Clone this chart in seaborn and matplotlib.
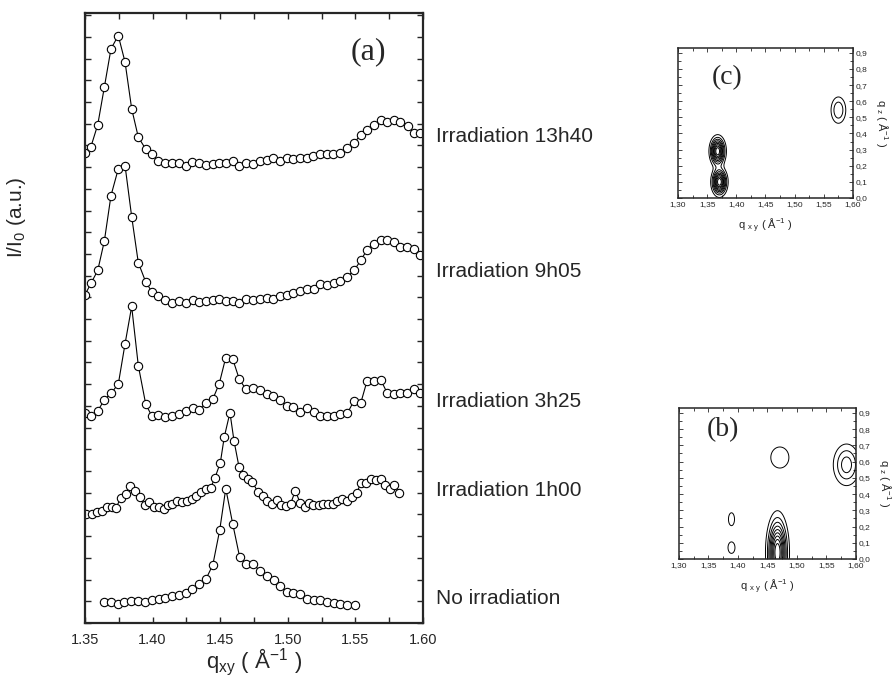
import numpy as np
import pandas as pd
import matplotlib
matplotlib.use('Agg')
import matplotlib.pyplot as plt
import seaborn as sns
from matplotlib.ticker import MultipleLocator, FuncFormatter

# --- GIXD profiles (q_xy in 1/A, intensity in arbitrary offset units) ---
q_none = [1.3641, 1.3692, 1.3746, 1.3791, 1.3840, 1.3894, 1.3946, 1.3996, 1.4045, 1.4094,
          1.4143, 1.4195, 1.4245, 1.4294, 1.4345, 1.4395, 1.4445, 1.4496, 1.4541, 1.4592,
          1.4644, 1.4691, 1.4740, 1.4794, 1.4844, 1.4896, 1.4942, 1.4994, 1.5041, 1.5090,
          1.5142, 1.5192, 1.5240, 1.5290, 1.5340, 1.5388, 1.5440, 1.5495]
i_none = [0.98, 0.95, 0.86, 0.98, 1.00, 1.03, 0.95, 1.06, 1.11, 1.15,
          1.24, 1.29, 1.40, 1.58, 1.81, 2.03, 2.67, 4.27, 6.19, 4.58,
          3.03, 2.71, 2.72, 2.41, 2.18, 1.98, 1.72, 1.44, 1.37, 1.32,
          1.11, 1.06, 1.05, 0.97, 0.94, 0.86, 0.82, 0.82]

q_1h00 = [1.3507, 1.3550, 1.3591, 1.3628, 1.3663, 1.3700, 1.3729, 1.3764, 1.3801, 1.3835,
          1.3870, 1.3905, 1.3942, 1.3976, 1.4010, 1.4045, 1.4082, 1.4114, 1.4146, 1.4183,
          1.4220, 1.4257, 1.4289, 1.4321, 1.4356, 1.4393, 1.4430, 1.4462, 1.4501, 1.4530,
          1.4572, 1.4602, 1.4639, 1.4671, 1.4703, 1.4737, 1.4782, 1.4814, 1.4848, 1.4885,
          1.4918, 1.4952, 1.4987, 1.5021, 1.5056, 1.5090, 1.5125, 1.5159, 1.5189, 1.5229,
          1.5263, 1.5297, 1.5332, 1.5366, 1.5401, 1.5436, 1.5475, 1.5510, 1.5539, 1.5576,
          1.5613, 1.5650, 1.5687, 1.5717, 1.5754, 1.5788, 1.5825]
i_1h00 = [5.01, 5.04, 5.10, 5.16, 5.33, 5.35, 5.30, 5.76, 5.96, 6.33,
          6.08, 5.82, 5.44, 5.59, 5.33, 5.35, 5.25, 5.42, 5.47, 5.62,
          5.58, 5.62, 5.73, 5.85, 6.04, 6.16, 6.24, 6.70, 7.39, 8.57,
          9.69, 8.39, 7.19, 6.81, 6.64, 6.48, 6.02, 5.85, 5.64, 5.50,
          5.67, 5.42, 5.39, 5.50, 6.10, 5.54, 5.36, 5.54, 5.42, 5.42,
          5.47, 5.47, 5.47, 5.64, 5.70, 5.61, 5.79, 5.98, 6.44, 6.47,
          6.65, 6.58, 6.62, 6.36, 6.19, 6.35, 5.99]

q_3h25 = [1.3500, 1.3544, 1.3594, 1.3643, 1.3695, 1.3746, 1.3796, 1.3845, 1.3894, 1.3949,
          1.3993, 1.4042, 1.4094, 1.4141, 1.4193, 1.4245, 1.4297, 1.4343, 1.4395, 1.4445,
          1.4493, 1.4541, 1.4592, 1.4641, 1.4691, 1.4745, 1.4794, 1.4844, 1.4893, 1.4942,
          1.4994, 1.5041, 1.5092, 1.5142, 1.5192, 1.5240, 1.5290, 1.5340, 1.5388, 1.5440,
          1.5490, 1.5539, 1.5586, 1.5635, 1.5689, 1.5734, 1.5783, 1.5832, 1.5882, 1.5931,
          1.5980]
i_3h25 = [9.66, 9.55, 9.77, 10.28, 10.61, 11.00, 12.86, 14.58, 11.86, 10.08,
          9.55, 9.57, 9.51, 9.53, 9.65, 9.77, 9.92, 9.83, 10.15, 10.31,
          11.03, 12.23, 12.17, 11.23, 10.76, 10.82, 10.74, 10.54, 10.46, 10.28,
          10.00, 9.94, 9.72, 9.89, 9.74, 9.53, 9.54, 9.54, 9.63, 9.66,
          10.24, 10.12, 11.15, 11.15, 11.18, 10.61, 10.55, 10.59, 10.61, 10.78,
          10.61]

q_9h05 = [1.3500, 1.3544, 1.3594, 1.3643, 1.3692, 1.3746, 1.3796, 1.3845, 1.3894, 1.3949,
          1.3993, 1.4042, 1.4094, 1.4141, 1.4193, 1.4245, 1.4297, 1.4343, 1.4395, 1.4445,
          1.4493, 1.4541, 1.4592, 1.4641, 1.4691, 1.4745, 1.4794, 1.4844, 1.4893, 1.4942,
          1.4994, 1.5041, 1.5092, 1.5142, 1.5192, 1.5240, 1.5290, 1.5340, 1.5388, 1.5440,
          1.5490, 1.5539, 1.5586, 1.5635, 1.5689, 1.5734, 1.5783, 1.5832, 1.5882, 1.5931,
          1.5980]
i_9h05 = [15.12, 15.65, 16.24, 17.60, 19.69, 20.92, 21.07, 18.72, 16.60, 15.71,
          15.27, 15.07, 14.88, 14.73, 14.84, 14.73, 14.88, 14.78, 14.84, 14.88,
          14.92, 14.85, 14.85, 14.76, 14.92, 14.88, 14.93, 14.96, 14.92, 15.08,
          15.12, 15.19, 15.30, 15.38, 15.38, 15.62, 15.58, 15.65, 15.76, 15.96,
          16.24, 16.70, 17.19, 17.47, 17.65, 17.62, 17.54, 17.30, 17.30, 17.24,
          16.96]

q_13h40 = [1.3500, 1.3544, 1.3594, 1.3643, 1.3692, 1.3746, 1.3796, 1.3845, 1.3894, 1.3949,
           1.3993, 1.4042, 1.4094, 1.4143, 1.4193, 1.4245, 1.4294, 1.4343, 1.4393, 1.4445,
           1.4493, 1.4543, 1.4592, 1.4641, 1.4691, 1.4740, 1.4794, 1.4844, 1.4893, 1.4942,
           1.4992, 1.5041, 1.5090, 1.5140, 1.5189, 1.5238, 1.5288, 1.5337, 1.5386, 1.5436,
           1.5490, 1.5539, 1.5586, 1.5635, 1.5689, 1.5734, 1.5783, 1.5832, 1.5887, 1.5931,
           1.5980]
i_13h40 = [21.67, 21.95, 22.95, 24.69, 26.45, 27.06, 25.84, 23.69, 22.38, 21.83,
           21.61, 21.28, 21.21, 21.21, 21.21, 21.07, 21.23, 21.18, 21.11, 21.15,
           21.21, 21.21, 21.29, 21.07, 21.18, 21.15, 21.26, 21.34, 21.41, 21.30,
           21.41, 21.37, 21.44, 21.44, 21.52, 21.60, 21.61, 21.61, 21.65, 21.90,
           22.11, 22.49, 22.72, 22.94, 23.18, 23.06, 23.18, 23.10, 22.90, 22.57,
           22.57]

series_names = ['No irradiation', 'Irradiation 1h00', 'Irradiation 3h25',
                'Irradiation 9h05', 'Irradiation 13h40']
series_q = [q_none, q_1h00, q_3h25, q_9h05, q_13h40]
series_i = [i_none, i_1h00, i_3h25, i_9h05, i_13h40]
label_y = [1.15, 6.1, 10.2, 16.2, 22.4]

# --- 2D maps: peaks (q_xy, q_z, width_xy, width_z, height) ---
c_qxy = [1.368, 1.371, 1.575]
c_qz = [0.29, 0.10, 0.545]
c_wxy = [0.007, 0.007, 0.0085]
c_wz = [0.048, 0.045, 0.055]
c_amp = [1.0, 1.0, 0.3]

b_qxy = [1.467, 1.389, 1.389, 1.471, 1.584]
b_qz = [0.04, 0.07, 0.245, 0.625, 0.58]
b_wxy = [0.0095, 0.005, 0.0045, 0.013, 0.014]
b_wz = [0.12, 0.03, 0.035, 0.055, 0.08]
b_amp = [1.0, 0.2, 0.19, 0.2, 0.36]

sns.set_style('ticks')
plt.rcParams['font.family'] = ['Liberation Sans', 'DejaVu Sans']
plt.rcParams['mathtext.default'] = 'regular'

fig = plt.figure(figsize=(8.96, 6.88), dpi=100)

# main panel
ax = fig.add_axes([0.0949, 0.0945, 0.3772, 0.8866])
for name, q, i in zip(series_names, series_q, series_i):
    df = pd.DataFrame({'q': q, 'I': i})
    sns.lineplot(data=df, x='q', y='I', ax=ax, color='black', linewidth=0.8,
                 marker='o', markersize=6, markerfacecolor='white',
                 markeredgecolor='black', markeredgewidth=0.8, clip_on=True)
for name, y in zip(series_names, label_y):
    ax.text(1.6096, y, name, fontsize=15, ha='left', va='center', clip_on=False)

ax.set_xlim(1.35, 1.60)
ax.set_ylim(0, 28.1)
ax.xaxis.set_major_locator(MultipleLocator(0.05))
ax.xaxis.set_minor_locator(MultipleLocator(0.025))
ax.xaxis.set_major_formatter(FuncFormatter(lambda v, p: f'{v:.2f}'))
ax.yaxis.set_major_locator(MultipleLocator(1))
ax.tick_params(which='both', direction='in', top=True, right=True, width=1, length=4)
ax.tick_params(axis='x', labelsize=10.5, pad=7)
ax.tick_params(axis='y', labelleft=False)
for s in ax.spines.values():
    s.set_linewidth(1.6)
ax.set_xlabel(r'q$_{xy}$ ( Å$^{-1}$ )', fontsize=16)
ax.xaxis.set_label_coords(0.5, -0.038)
ax.set_ylabel(r'I/I$_0$ (a.u.)', fontsize=15)
ax.yaxis.set_label_coords(-0.17, 0.665)
ax.text(1.5593, 26.3, '(a)', fontsize=23, family='Liberation Serif', ha='center', va='center')

# contour insets
qx = np.linspace(1.30, 1.60, 300)
qz = np.linspace(0.0, 0.93, 300)
QX, QZ = np.meshgrid(qx, qz)
levels = [0.1, 0.2, 0.3, 0.4, 0.5, 0.6, 0.7, 0.8, 0.9]
comma = FuncFormatter(lambda v, p: f'{v:.2f}'.replace('.', ',') if abs(v) > 1 else f'{v:.1f}'.replace('.', ','))


def inset(rect, px, pz, wx, wz, amp, tag, tag_xy):
    a = fig.add_axes(rect)
    Z = np.zeros_like(QX)
    for x0, z0, sx, sz, h in zip(px, pz, wx, wz, amp):
        Z += h * np.exp(-((QX - x0) ** 2 / (2 * sx ** 2) + (QZ - z0) ** 2 / (2 * sz ** 2)))
    a.contour(QX, QZ, Z, levels=levels, colors='black', linewidths=0.7)
    a.set_xlim(1.30, 1.60)
    a.set_ylim(0, 0.93)
    a.xaxis.set_major_locator(MultipleLocator(0.05))
    a.xaxis.set_minor_locator(MultipleLocator(0.025))
    a.yaxis.set_major_locator(MultipleLocator(0.1))
    a.yaxis.set_minor_locator(MultipleLocator(0.05))
    a.xaxis.set_major_formatter(comma)
    a.yaxis.set_major_formatter(comma)
    a.tick_params(which='both', direction='in', top=True, right=True, left=True,
                  labelleft=False, labelright=True, labelsize=6, width=0.6, pad=2)
    a.tick_params(which='major', length=3)
    a.tick_params(which='minor', length=2)
    for s in a.spines.values():
        s.set_linewidth(1.1)
    a.set_xlabel(r'q $_{x\ y}$ ( Å$^{-1}$ )', fontsize=8, labelpad=6)
    a.yaxis.set_label_position('right')
    a.set_ylabel(r'q $_z$ ( Å$^{-1}$ )', fontsize=8, rotation=270, labelpad=16)
    a.text(tag_xy[0], tag_xy[1], tag, fontsize=20, family='Liberation Serif',
           ha='center', va='center')
    return a


inset([0.7567, 0.7122, 0.1953, 0.218], c_qxy, c_qz, c_wxy, c_wz, c_amp, '(c)', (1.384, 0.745))
inset([0.7578, 0.1875, 0.1975, 0.2195], b_qxy, b_qz, b_wxy, b_wz, b_amp, '(b)', (1.375, 0.795))

plt.savefig('out.png', dpi=100)
